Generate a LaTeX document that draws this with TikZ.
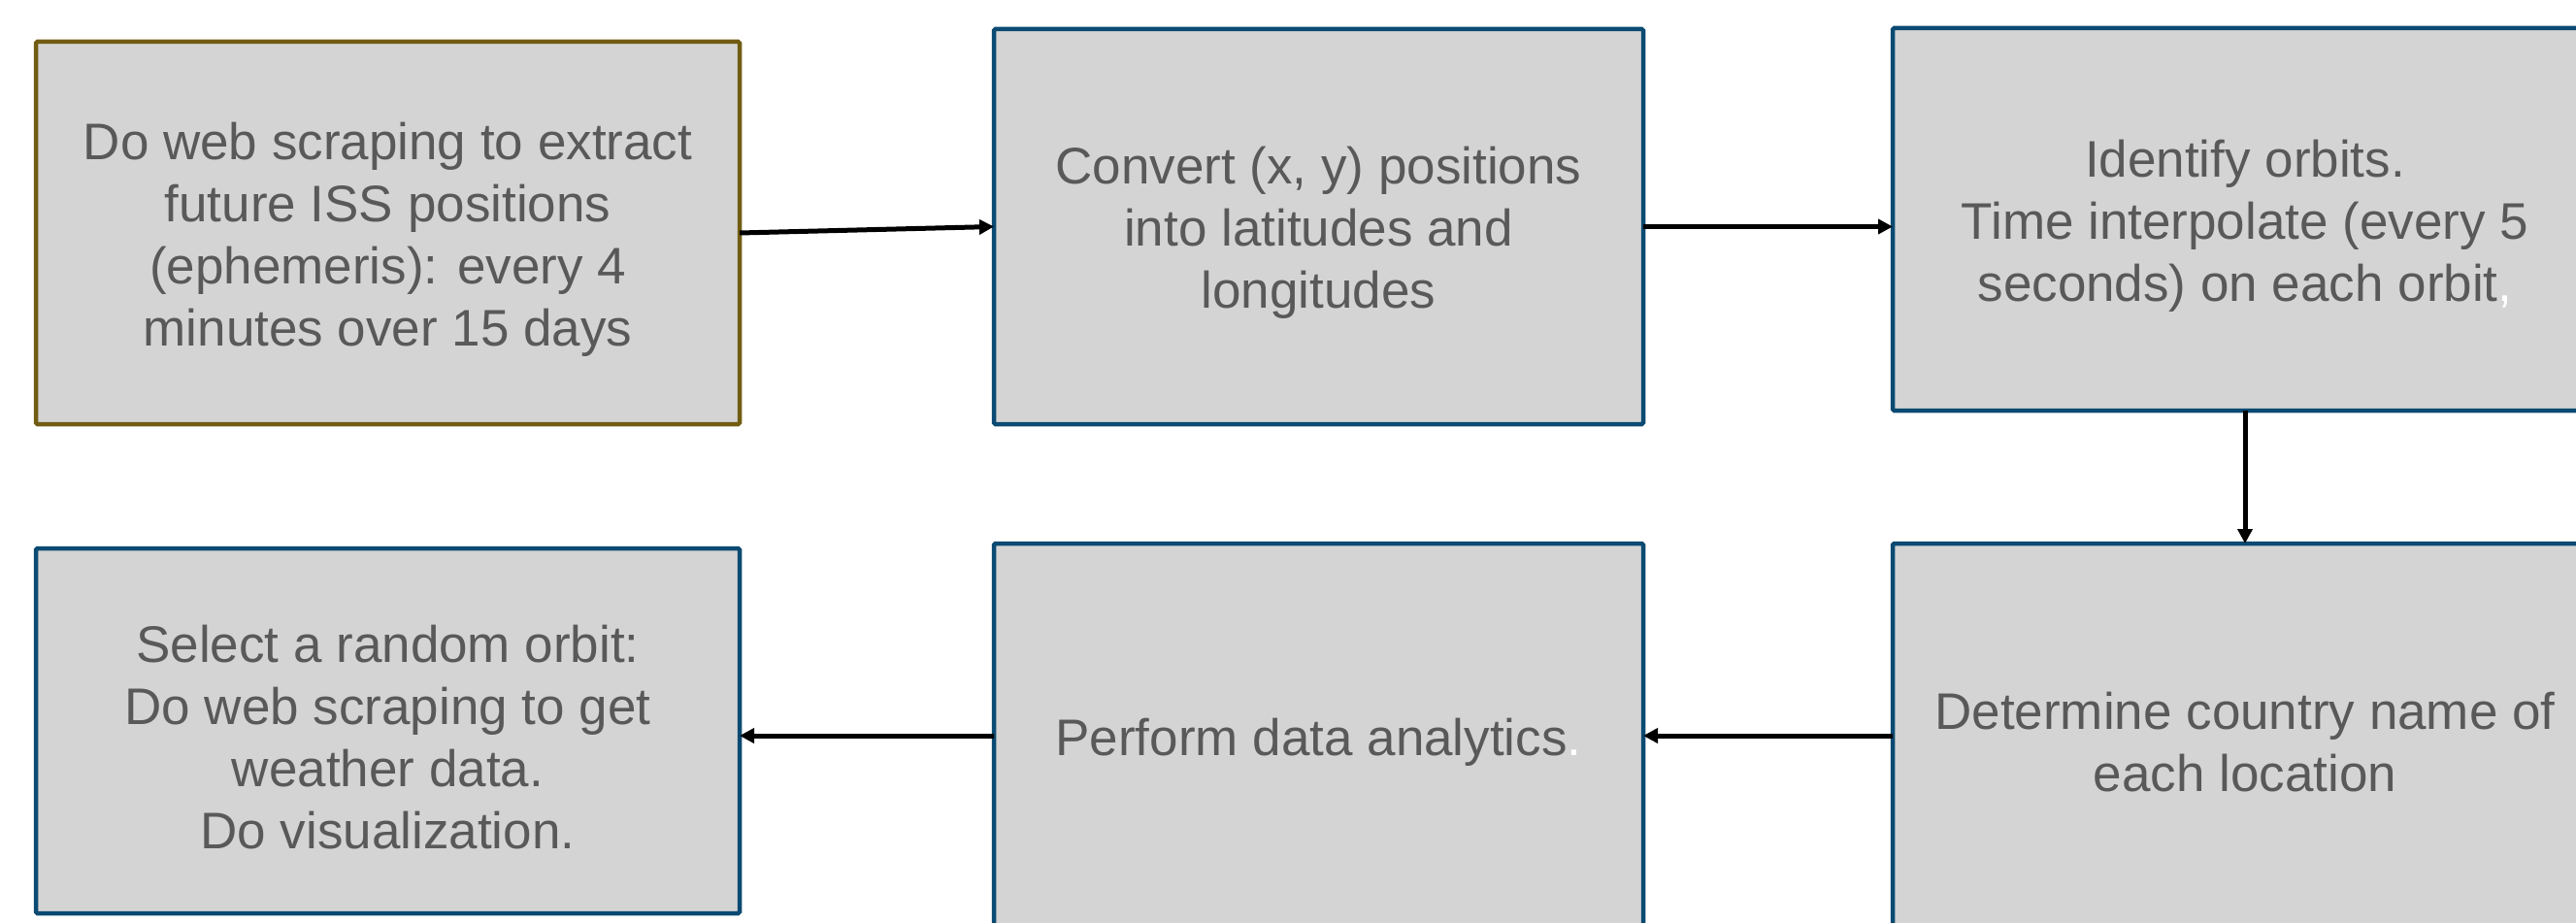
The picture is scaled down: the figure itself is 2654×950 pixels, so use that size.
\documentclass[tikz,border=0pt]{standalone}
\usepackage{fontspec}
\setmainfont{Liberation Sans}
\usetikzlibrary{arrows.meta,calc}
\definecolor{boxfill}{HTML}{D4D4D4}
\definecolor{boxblue}{HTML}{0B4A72}
\definecolor{boxolive}{HTML}{715C12}
\definecolor{boxtext}{HTML}{595959}
\begin{document}
\begin{tikzpicture}[x=1pt,y=-1pt,
  stepbox/.style={draw=boxblue, fill=boxfill, line width=4.5pt, rounded corners=1.5pt,
    inner sep=0pt, outer sep=0pt},
  steptext/.style={text=boxtext, align=center, inner sep=0pt,
    font=\fontsize{53}{64}\selectfont},
  flow/.style={line width=5pt, -{Triangle[length=15pt,width=15pt]}}]
  \useasboundingbox (0,0) rectangle (2654,950);
  \clip (0,0) rectangle (2654,950);
  % process boxes, top row
  \node[stepbox, draw=boxolive, minimum width=725pt, minimum height=394pt] (scrape) at (399.5,240) {};
  \node[stepbox, minimum width=669pt, minimum height=407pt] (convert) at (1358.5,233.5) {};
  \node[stepbox, minimum width=726pt, minimum height=394pt] (orbits) at (2313,226) {};
  % process boxes, bottom row
  \node[stepbox, minimum width=725pt, minimum height=376pt] (visual) at (399.5,753) {};
  \node[stepbox, minimum width=669pt, minimum height=396pt] (analytics) at (1358.5,758) {};
  \node[stepbox, minimum width=726pt, minimum height=396pt] (country) at (2313,758) {};
  % box texts
  \node[steptext] (scrape-t) at ([yshift=-6.5pt]scrape.center)
    {Do web scraping to extract\\future ISS positions\\(ephemeris): every 4\\minutes over 15 days};
  \node[steptext] (convert-t) at ([yshift=-6.5pt]convert.center)
    {Convert (x, y) positions\\into latitudes and\\longitudes};
  \node[steptext] (orbits-t) at ([yshift=-6.5pt]orbits.center)
    {Identify orbits.\\Time interpolate (every 5\\seconds) on each orbit\textcolor{white}{,}};
  \node[steptext] (visual-t) at ([yshift=-6.5pt]visual.center)
    {Select a random orbit:\\Do web scraping to get\\weather data.\\Do visualization.};
  \node[steptext] (analytics-t) at ([yshift=-6.5pt]analytics.center)
    {Perform data analytics\textcolor{white}{.}};
  \node[steptext] (country-t) at ([yshift=-6.5pt]country.center)
    {Determine country name of\\each location};
  % connectors
  \draw[flow] (scrape.east) -- (convert.west);
  \draw[flow] (convert.east) -- (convert.east -| orbits.west);
  \draw[flow] (orbits.south) -- (country.north);
  \draw[flow] (country.west) -- (country.west -| analytics.east);
  \draw[flow] (analytics.west) -- (analytics.west -| visual.east);
\end{tikzpicture}
\end{document}
